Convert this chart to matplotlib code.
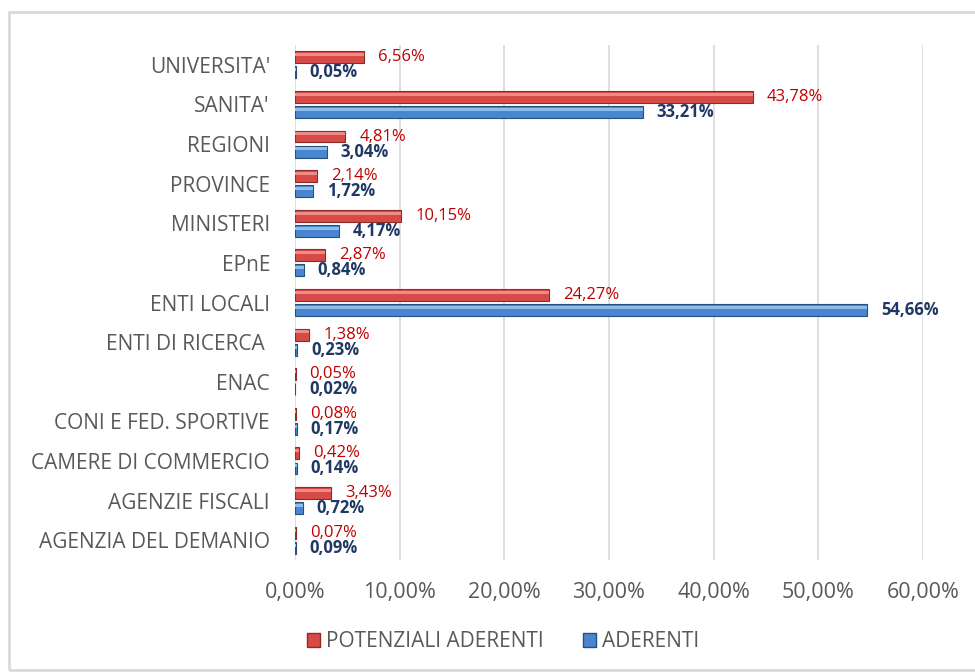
import matplotlib.pyplot as plt
from matplotlib.patches import Rectangle, Patch
from matplotlib.ticker import FuncFormatter
import numpy as np

categories = ["UNIVERSITA'", "SANITA'", "REGIONI", "PROVINCE", "MINISTERI", "EPnE",
              "ENTI LOCALI", "ENTI DI RICERCA ", "ENAC", "CONI E FED. SPORTIVE",
              "CAMERE DI COMMERCIO", "AGENZIE FISCALI", "AGENZIA DEL DEMANIO"]
potenziali = [6.56, 43.78, 4.81, 2.14, 10.15, 2.87, 24.27, 1.38, 0.05, 0.08, 0.42, 3.43, 0.07]
aderenti = [0.05, 33.21, 3.04, 1.72, 4.17, 0.84, 54.66, 0.23, 0.02, 0.17, 0.14, 0.72, 0.09]
ticks = [0, 10, 20, 30, 40, 50, 60]


def pct(v):
    return f"{v:.2f}%".replace('.', ',')


def main():
    plt.rcParams['font.family'] = ['Open Sans', 'DejaVu Sans']
    fig = plt.figure(figsize=(9.75, 6.72), dpi=100)
    ax = fig.add_axes([0.3026, 0.1667, 0.644, 0.7663])

    y = np.arange(len(categories))
    off = 0.19
    h = 0.3

    # red series with a bevel look
    ax.barh(y - off, potenziali, height=h, color='#D64A47', edgecolor='#8E2A28',
            linewidth=0.8, zorder=3)
    ax.barh(y - off - h * 0.22, potenziali, height=h * 0.25, color='#EE8A87',
            linewidth=0, zorder=4)
    ax.barh(y + off, aderenti, height=h, color='#4A86CF', edgecolor='#24507F',
            linewidth=0.8, zorder=3)
    ax.barh(y + off - h * 0.22, aderenti, height=h * 0.25, color='#8EBCEB',
            linewidth=0, zorder=4)

    for i in y:
        ax.annotate(pct(potenziali[i]), (potenziali[i], i - off), xytext=(10, 0),
                    textcoords='offset points', va='center', ha='left',
                    color='#C00000', fontsize=12)
        ax.annotate(pct(aderenti[i]), (aderenti[i], i + off), xytext=(10, 0),
                    textcoords='offset points', va='center', ha='left',
                    color='#1F3864', fontsize=12, fontweight='bold')

    ax.set_xlim(0, 60)
    ax.set_ylim(len(categories) - 0.5, -0.5)
    ax.set_xticks(ticks)
    ax.xaxis.set_major_formatter(FuncFormatter(lambda v, p: pct(v)))
    ax.set_yticks(y)
    ax.set_yticklabels(categories)
    ax.tick_params(axis='x', length=0, pad=16, labelsize=15.5, labelcolor='#595959')
    ax.tick_params(axis='y', length=0, pad=18, labelsize=15, labelcolor='#595959')
    ax.grid(axis='x', color='#D9D9D9', linewidth=1.2, zorder=0)
    for s in ax.spines.values():
        s.set_visible(False)

    handles = [Patch(facecolor='#D64A47', edgecolor='#8E2A28'),
               Patch(facecolor='#4A86CF', edgecolor='#24507F')]
    ax.legend(handles, ['POTENZIALI ADERENTI', 'ADERENTI'], loc='center',
              bbox_to_anchor=(0.516, 0.045), bbox_transform=fig.transFigure, ncol=2,
              frameon=False, fontsize=15, labelcolor='#595959', handlelength=0.6,
              handleheight=0.6, handletextpad=0.3, columnspacing=1.9)

    fig.patches.append(Rectangle((0.009, 0.003), 1.2, 0.979, transform=fig.transFigure,
                                 fill=False, edgecolor='#D9D9D9', linewidth=2))

    fig.savefig('out.png', dpi=100)


if __name__ == '__main__':
    main()
